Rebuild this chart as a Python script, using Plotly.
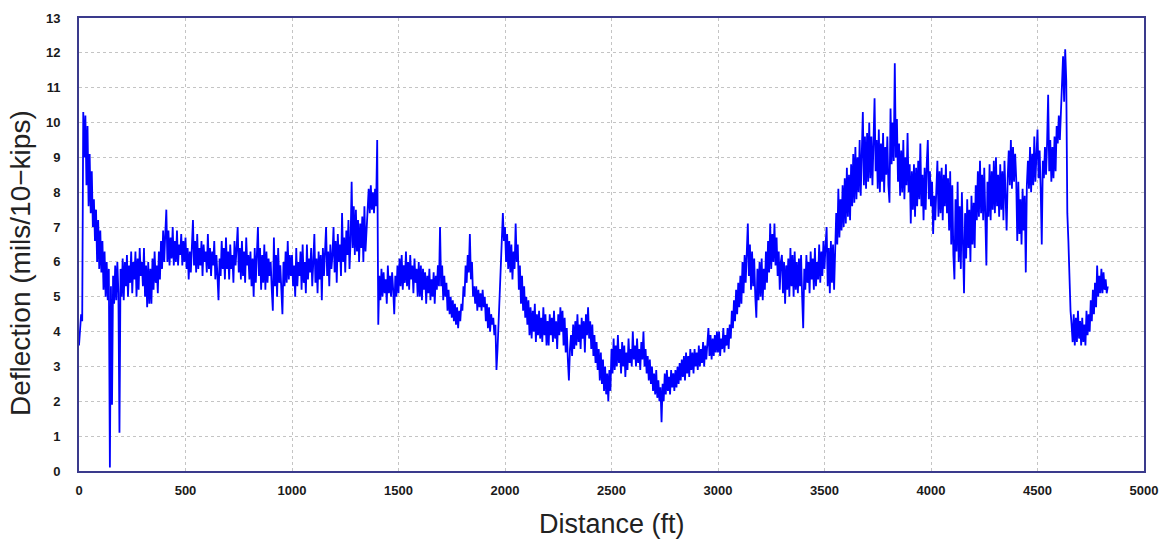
import plotly.graph_objects as go

# Deflection profile sampled every 5 ft along the section (mils per 10 kips)
STEP_FT = 5

defl_0000_0995 = [
    3.6, 4.0, 4.5, 4.3, 10.3, 9.0, 10.2, 8.2, 9.9, 7.6, 9.1, 7.4, 8.6, 7.0, 7.8, 6.6, 7.5, 6.0, 7.2, 5.8,
    6.9, 5.7, 6.6, 5.2, 6.3, 5.0, 6.0, 4.9, 5.8, 0.1, 5.3, 1.9, 5.6, 4.8, 5.9, 4.9, 6.0, 5.1, 1.1, 5.8,
    5.0, 6.1, 4.9, 6.0, 5.3, 6.2, 5.0, 5.9, 5.4, 6.3, 5.1, 6.0, 5.5, 6.3, 5.0, 6.1, 5.2, 6.4, 5.6, 6.0,
    5.3, 6.4, 5.0, 5.9, 4.7, 6.0, 4.8, 5.8, 4.8, 6.1, 5.2, 6.3, 5.4, 5.9, 5.1, 6.3, 5.5, 6.6, 5.8, 6.9,
    6.0, 6.8, 7.5, 6.0, 6.9, 5.9, 6.7, 6.1, 7.0, 5.9, 6.6, 6.0, 6.9, 5.9, 6.5, 6.2, 6.8, 5.9, 6.6, 6.0,
    6.7, 5.8, 6.4, 5.5, 6.3, 5.7, 6.5, 7.2, 5.9, 6.6, 5.7, 6.8, 5.8, 6.4, 5.9, 6.6, 5.6, 6.5, 6.0, 6.3,
    5.7, 6.8, 5.8, 6.4, 5.6, 6.3, 5.9, 6.6, 5.5, 6.2, 5.6, 4.9, 6.1, 5.6, 6.6, 5.8, 6.4, 5.5, 6.7, 5.8,
    6.3, 5.5, 6.5, 5.8, 6.2, 5.4, 6.6, 5.9, 6.4, 7.0, 5.7, 6.4, 5.5, 6.6, 5.6, 6.3, 5.4, 6.7, 5.9, 6.2,
    5.5, 6.3, 5.3, 6.1, 5.0, 6.4, 5.4, 6.2, 7.0, 5.6, 6.4, 5.2, 6.2, 5.4, 6.5, 5.2, 6.3, 5.4, 6.1, 5.6,
    6.0, 5.2, 4.6, 6.7, 5.3, 6.2, 5.0, 6.4, 5.4, 5.9, 5.1, 4.5, 6.0, 5.3, 6.3, 5.4, 6.6, 5.5, 6.2, 5.6,
]

defl_1000_1995 = [
    6.2, 5.3, 5.9, 5.0, 6.4, 5.3, 6.0, 5.6, 6.3, 5.2, 6.5, 5.4, 6.0, 5.1, 6.5, 5.5, 6.1, 5.7, 6.4, 5.3,
    6.0, 6.8, 5.4, 6.1, 5.1, 6.3, 5.5, 6.2, 4.9, 6.4, 5.6, 6.2, 7.0, 5.6, 6.3, 5.3, 6.5, 5.8, 6.2, 7.0,
    5.7, 6.6, 5.4, 6.8, 6.0, 6.5, 5.6, 7.4, 6.0, 6.7, 5.7, 6.9, 6.2, 7.2, 5.8, 6.6, 8.3, 6.4, 7.6, 6.2,
    7.5, 6.3, 7.2, 6.0, 7.1, 6.4, 7.3, 6.0, 7.6, 6.3, 7.0, 7.6, 8.1, 7.4, 8.2, 7.5, 8.0, 7.4, 8.1, 7.6,
    9.5, 4.2, 5.6, 4.9, 5.8, 5.0, 5.7, 5.1, 5.5, 4.8, 5.9, 5.1, 5.6, 5.0, 5.7, 5.2, 4.5, 5.6, 5.0, 5.9,
    5.1, 6.1, 5.3, 6.2, 5.2, 5.9, 5.4, 6.3, 5.3, 6.0, 5.2, 6.2, 5.5, 5.9, 5.1, 6.1, 5.4, 5.8, 5.0, 6.0,
    5.0, 5.9, 4.9, 5.8, 5.2, 5.7, 4.8, 5.6, 5.1, 5.8, 4.9, 5.5, 5.0, 5.7, 4.8, 5.6, 5.2, 5.9, 5.3, 7.0,
    5.3, 5.9, 4.9, 5.6, 5.0, 5.4, 4.6, 5.2, 4.5, 5.0, 4.4, 4.9, 4.3, 4.8, 4.2, 4.7, 4.1, 4.6, 4.3, 4.8,
    4.6, 5.3, 5.0, 5.9, 5.4, 6.2, 5.7, 6.8, 5.5, 6.0, 5.0, 5.3, 4.8, 5.3, 4.6, 5.2, 4.7, 5.1, 4.6, 5.2,
    4.7, 5.0, 4.3, 4.8, 4.1, 4.7, 4.0, 4.5, 4.2, 4.4, 3.9, 4.2, 2.9, 3.5, 4.2, 5.1, 6.0, 6.6, 7.4, 6.6,
]

defl_2000_2995 = [
    7.0, 6.0, 6.8, 5.8, 6.6, 5.7, 6.5, 5.5, 6.3, 5.8, 7.1, 6.0, 6.5, 5.2, 5.9, 4.8, 5.6, 4.6, 5.3, 4.4,
    5.0, 4.2, 4.9, 3.9, 4.7, 3.8, 4.6, 4.0, 4.8, 3.7, 4.5, 3.9, 4.6, 3.8, 4.4, 3.7, 4.7, 3.9, 4.5, 3.6,
    4.3, 3.6, 4.5, 3.9, 4.4, 3.7, 4.6, 3.8, 4.3, 3.5, 4.5, 3.9, 4.7, 4.0, 4.6, 3.6, 4.4, 3.4, 4.1, 3.2,
    2.6, 3.5, 3.9, 3.3, 4.2, 3.5, 4.3, 3.6, 4.5, 3.7, 4.2, 3.5, 4.4, 3.8, 4.3, 3.4, 4.5, 3.9, 4.7, 3.8,
    4.3, 3.5, 4.2, 3.3, 3.9, 3.1, 3.7, 2.9, 3.5, 2.6, 3.4, 2.5, 3.2, 2.3, 3.0, 2.2, 2.8, 2.0, 2.9, 2.3,
    3.5, 2.8, 3.8, 2.9, 3.6, 3.0, 3.9, 3.1, 3.5, 2.8, 3.7, 3.0, 3.6, 2.7, 3.4, 2.9, 3.8, 3.1, 3.5, 3.0,
    4.0, 3.2, 3.6, 3.0, 3.8, 3.1, 3.5, 2.9, 3.7, 3.2, 4.0, 3.0, 3.5, 2.8, 3.3, 2.6, 3.2, 2.5, 3.0, 2.3,
    2.8, 2.2, 2.9, 2.1, 2.6, 2.0, 2.4, 1.4, 2.5, 2.0, 2.8, 2.2, 2.9, 2.3, 2.7, 2.2, 2.9, 2.4, 2.8, 2.3,
    2.9, 2.4, 3.0, 2.5, 3.1, 2.6, 3.2, 2.7, 3.3, 2.6, 3.4, 2.8, 3.3, 2.7, 3.5, 2.9, 3.4, 2.8, 3.5, 3.0,
    3.4, 2.9, 3.6, 3.0, 3.5, 3.1, 3.7, 3.0, 3.6, 3.2, 3.8, 4.1, 3.3, 3.9, 3.2, 3.8, 3.3, 3.9, 3.4, 4.0,
]

defl_3000_3995 = [
    3.4, 4.0, 3.3, 3.8, 3.5, 4.1, 3.4, 3.9, 3.6, 4.1, 3.5, 4.2, 3.8, 4.6, 4.1, 4.9, 4.3, 5.2, 4.5, 5.4,
    4.7, 5.6, 4.8, 6.0, 5.1, 6.2, 5.4, 6.6, 7.1, 5.6, 6.5, 5.2, 6.3, 5.3, 6.1, 5.0, 4.4, 5.8, 4.9, 6.0,
    5.0, 6.1, 4.9, 5.8, 5.2, 6.3, 5.4, 6.6, 5.7, 7.1, 5.8, 6.8, 6.0, 7.1, 5.9, 6.7, 5.6, 6.3, 5.2, 6.0,
    6.2, 5.1, 6.0, 4.8, 5.9, 5.2, 6.1, 5.0, 6.4, 5.3, 6.2, 5.0, 6.3, 5.2, 6.0, 5.1, 6.1, 5.3, 6.2, 5.0,
    4.1, 5.8, 5.2, 6.2, 5.4, 6.0, 5.1, 6.3, 5.5, 6.1, 5.2, 6.4, 5.3, 6.0, 5.5, 6.5, 5.4, 6.3, 5.6, 6.6,
    5.8, 6.5, 7.0, 5.3, 6.4, 5.1, 6.6, 5.4, 6.5, 5.2, 6.6, 7.4, 6.5, 8.1, 6.7, 7.8, 6.9, 8.2, 7.0, 8.4,
    7.1, 8.7, 7.3, 8.5, 7.2, 8.8, 7.6, 9.1, 7.7, 9.3, 7.8, 9.0, 8.0, 9.5, 7.9, 9.2, 10.3, 8.2, 9.6, 8.1,
    9.7, 8.3, 10.0, 8.4, 9.6, 8.2, 9.9, 10.7, 8.6, 9.5, 8.1, 9.8, 8.0, 9.4, 8.3, 9.7, 8.0, 9.3, 8.5, 9.6,
    8.2, 7.7, 10.4, 8.8, 10.0, 8.9, 11.7, 9.0, 10.1, 8.3, 9.4, 7.9, 9.2, 8.0, 9.5, 7.8, 9.0, 8.2, 9.7, 8.0,
    8.8, 7.1, 8.6, 7.5, 8.8, 7.3, 8.7, 7.6, 8.9, 7.8, 9.4, 7.6, 8.5, 7.2, 8.7, 7.5, 8.8, 9.5, 7.8, 8.6,
]

defl_4000_4830 = [
    7.6, 8.3, 6.8, 7.9, 7.2, 8.5, 8.9, 7.3, 8.6, 7.4, 8.7, 7.2, 8.5, 7.6, 8.8, 7.4, 8.4, 6.9, 8.6, 6.5,
    8.2, 6.2, 5.5, 7.8, 6.3, 8.3, 6.0, 7.6, 5.8, 8.0, 6.2, 5.1, 7.4, 6.1, 7.8, 6.4, 7.5, 6.0, 7.9, 6.5,
    7.7, 6.4, 8.2, 7.2, 8.6, 7.3, 8.9, 7.4, 8.5, 7.2, 8.7, 7.5, 5.9, 8.3, 7.3, 8.8, 7.2, 8.6, 7.5, 8.9,
    7.4, 9.0, 7.6, 8.5, 7.3, 8.8, 7.5, 8.6, 7.2, 8.9, 7.6, 6.9, 8.4, 9.2, 8.2, 9.5, 8.1, 9.3, 8.3, 9.1,
    8.4, 6.6, 8.3, 6.8, 7.8, 6.5, 8.1, 6.9, 7.9, 5.7, 8.2, 8.9, 8.1, 9.3, 8.0, 9.1, 8.2, 9.6, 8.3, 9.4,
    9.8, 8.4, 9.2, 8.1, 6.5, 8.9, 8.4, 9.3, 8.5, 9.4, 10.8, 8.6, 9.5, 8.3, 9.3, 8.4, 9.6, 8.6, 9.9, 9.4,
    10.2, 9.5, 10.4, 10.8, 11.9, 10.6, 12.1, 11.2, 7.4, 6.6, 5.5, 4.6, 4.2, 3.7, 4.5, 3.6, 4.4, 3.7, 4.6, 3.8,
    4.3, 3.6, 4.4, 3.7, 4.2, 3.6, 4.6, 3.9, 4.5, 4.0, 4.9, 4.3, 5.2, 4.5, 5.4, 4.7, 5.9, 5.0, 5.6, 5.1,
    5.8, 5.1, 5.7, 5.2, 5.5, 5.1, 5.3,
]

deflection = (defl_0000_0995 + defl_1000_1995 + defl_2000_2995
              + defl_3000_3995 + defl_4000_4830)
distance = [i * STEP_FT for i in range(len(deflection))]

x_ticks = list(range(0, 5001, 500))
y_ticks = list(range(0, 14))

FONT = "Liberation Sans, Arial, sans-serif"
FRAME = "#3a3a8c"
GRID = "#c4c4c4"

fig = go.Figure(
    go.Scatter(
        x=distance,
        y=deflection,
        mode="lines",
        line=dict(color="#0000ff", width=1.8),
        hoverinfo="x+y",
    )
)

axis_common = dict(
    showgrid=True,
    gridcolor=GRID,
    griddash="dot",
    gridwidth=1,
    showline=True,
    linecolor=FRAME,
    linewidth=2,
    mirror=True,
    zeroline=False,
    ticks="outside",
    tickcolor="rgba(0,0,0,0)",
    tickfont=dict(family=FONT, size=13, color="#1a1a1a", weight="bold"),
)

fig.update_xaxes(range=[0, 5000], tickvals=x_ticks, ticklen=6, **axis_common)
fig.update_yaxes(range=[0, 13], tickvals=y_ticks, ticklen=14, **axis_common)

fig.update_layout(
    width=1169,
    height=540,
    margin=dict(l=79, r=22, t=11, b=69),
    paper_bgcolor="white",
    plot_bgcolor="white",
    showlegend=False,
    annotations=[
        dict(
            text="Distance (ft)",
            xref="paper", yref="paper",
            x=0.5, y=-0.117,
            xanchor="center", yanchor="middle",
            showarrow=False,
            font=dict(family=FONT, size=27, color="#222222"),
        ),
        dict(
            text="Deflection (mils/10\u2212kips)",
            xref="paper", yref="paper",
            x=-0.055, y=0.46,
            xanchor="center", yanchor="middle",
            textangle=-90,
            showarrow=False,
            font=dict(family=FONT, size=28, color="#222222"),
        ),
    ],
)

fig.write_html("out.html")
